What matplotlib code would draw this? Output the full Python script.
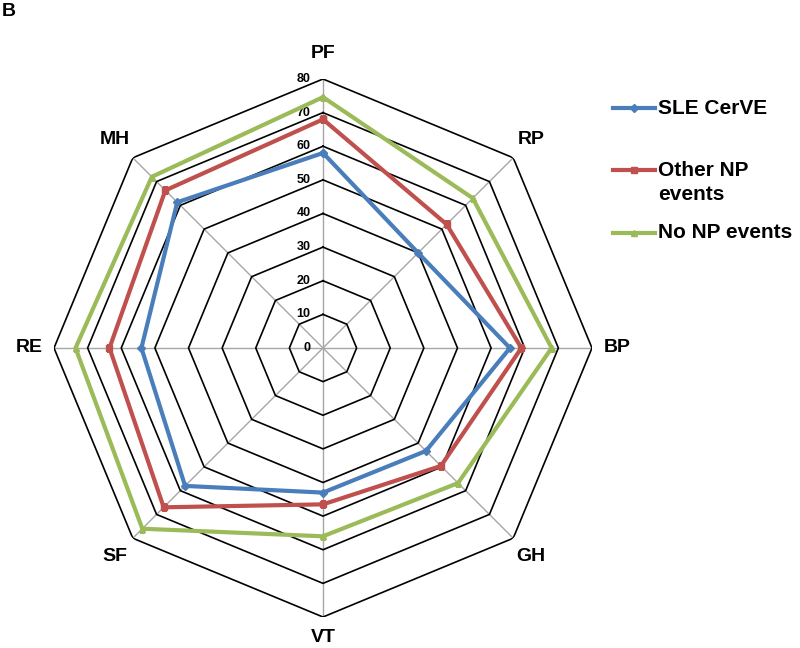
import numpy as np
import matplotlib
matplotlib.use("Agg")
from matplotlib import pyplot as plt
from matplotlib.lines import Line2D

plt.rcParams['font.family'] = ['Liberation Sans', 'DejaVu Sans']

# axes, clockwise from the top
categories = ['PF', 'RP', 'BP', 'GH', 'VT', 'SF', 'RE', 'MH']
ring_values = [0, 10, 20, 30, 40, 50, 60, 70, 80]

series_names = ['SLE CerVE', 'Other NP events', 'No NP events']
sle_cerve = [58, 40, 55.6, 43.3, 43, 58, 54, 61.3]
other_np = [68, 52, 59, 49.6, 46.5, 67, 63.5, 66.3]
no_np = [74.6, 63, 68, 56.8, 56, 76, 73.6, 72]

colors = ['#4A7EBB', '#C0504D', '#9BBB59']
markers = ['D', 's', '^']

W, H = 800, 648
fig = plt.figure(figsize=(W / 100, H / 100), dpi=100)

# centre of the web at (323, 348) px, outer ring radius 269 px
cx, cy, rad = 323, 348, 269
ax = fig.add_axes([(cx - rad) / W, (H - cy - rad) / H, 2 * rad / W, 2 * rad / H],
                  projection='polar')
ax.set_theta_offset(np.pi / 2)
ax.set_theta_direction(-1)
ax.set_ylim(0, 80)
ax.grid(False)
ax.spines['polar'].set_visible(False)
ax.set_xticks([])
ax.set_yticks([])
ax.patch.set_visible(False)

theta = np.linspace(0, 2 * np.pi, len(categories), endpoint=False)
theta_c = np.append(theta, theta[0])

# spokes
for t in theta:
    ax.plot([t, t], [0, 80], color='#A6A6A6', lw=1.0, zorder=1)

# octagon rings
for r in ring_values[1:]:
    ax.plot(theta_c, [r] * len(theta_c), color='black', lw=1.2, zorder=2)

# ring labels along the PF spoke
for r in ring_values:
    ax.annotate(str(r), xy=(0, r), xytext=(-9, 0), textcoords='offset points',
                ha='right', va='center', fontsize=9, fontweight='bold')

# category labels (VT pulled in a little so it stays inside the figure)
label_r = [87.5, 87.5, 87.5, 87.5, 86, 87.5, 87.5, 87.5]
for t, name, lr in zip(theta, categories, label_r):
    ax.text(t, lr, name, ha='center', va='center', fontsize=14,
            fontweight='bold', clip_on=False)

# series
for vals, c, m in zip([sle_cerve, other_np, no_np], colors, markers):
    v = np.append(vals, vals[0])
    ax.plot(theta_c, v, color=c, lw=3, marker=m, markersize=4, zorder=3)

# legend drawn by hand to match the layout
leg_y = [108, 170, 233]
for name, c, m, y in zip(series_names, colors, markers, leg_y):
    fy = 1 - y / H
    fig.add_artist(Line2D([613 / W, 655 / W], [fy, fy], color=c, lw=3,
                          transform=fig.transFigure))
    fig.add_artist(Line2D([634 / W], [fy], color=c, marker=m, markersize=4,
                          transform=fig.transFigure))
    if name == 'Other NP events':
        fig.text(658 / W, fy, 'Other NP', ha='left', va='center',
                 fontsize=15, fontweight='bold')
        fig.text(658 / W, 1 - 195 / H, 'events', ha='left', va='center',
                 fontsize=15, fontweight='bold')
    else:
        fig.text(658 / W, fy, name, ha='left', va='center',
                 fontsize=15, fontweight='bold')

fig.text(0.002, 0.995, 'B', ha='left', va='top', fontsize=14, fontweight='bold')

fig.savefig('out.png', dpi=100)
